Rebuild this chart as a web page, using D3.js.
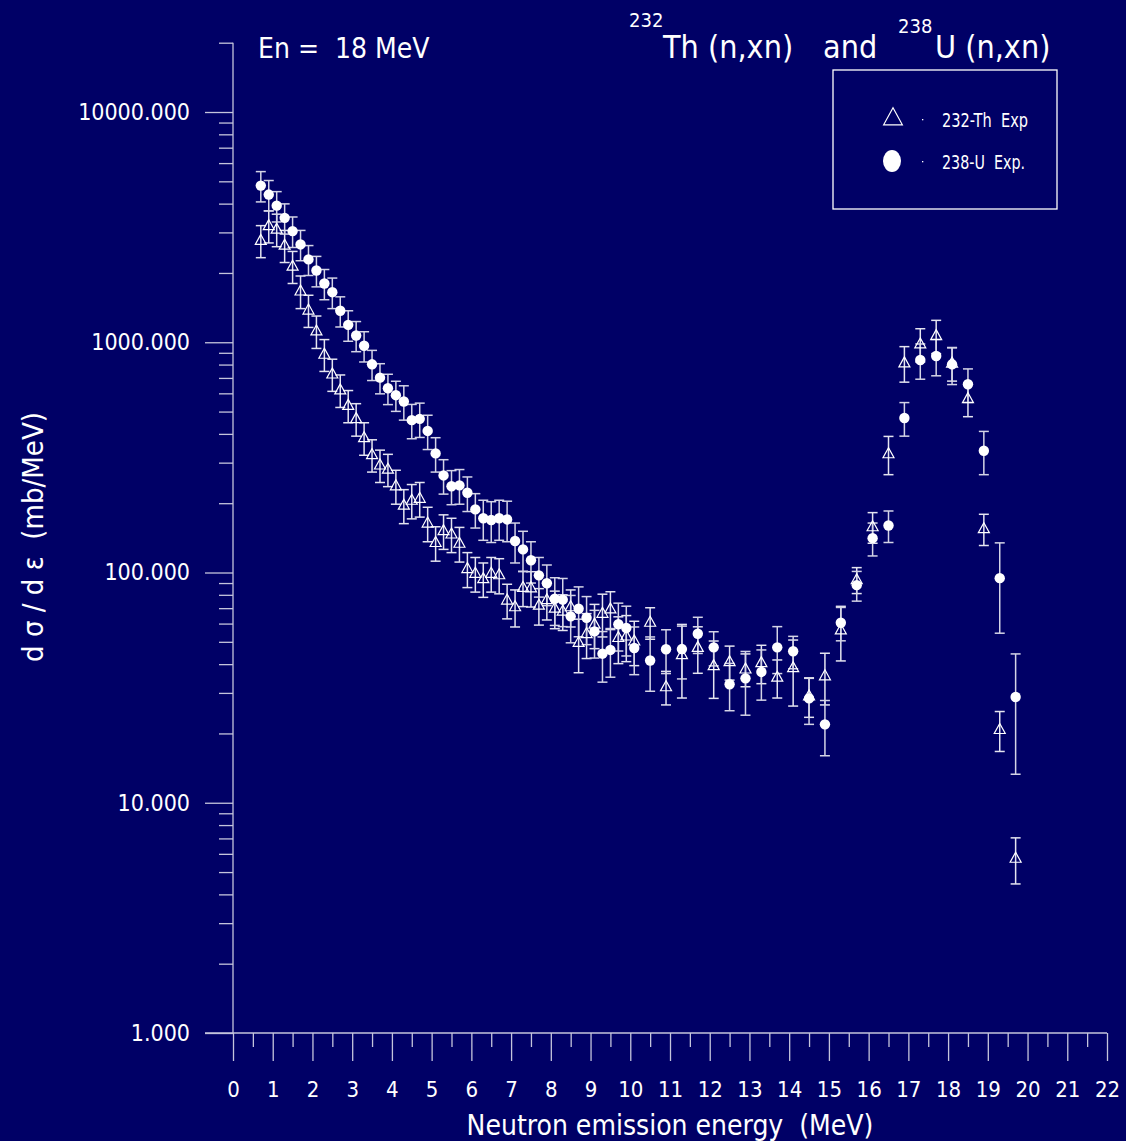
<!DOCTYPE html>
<html>
<head>
<meta charset="utf-8">
<script src="https://cdn.jsdelivr.net/npm/d3@7"></script>
<style>
  body { margin: 0; background: #000066; }
  svg text { font-family: "DejaVu Sans Condensed", "DejaVu Sans", sans-serif; fill: #ffffff; }
</style>
</head>
<body>
<div id="chart"></div>
<script>
// 238-U (n,xn) data, En = 18 MeV
var uEnergy = [0.7, 0.9, 1.1, 1.3, 1.5, 1.7, 1.9, 2.1, 2.3, 2.5, 2.7, 2.9, 3.1, 3.3, 3.5, 3.7, 3.9, 4.1,
    4.3, 4.5, 4.7, 4.9, 5.1, 5.3, 5.5, 5.7, 5.9, 6.1, 6.3, 6.5, 6.7, 6.9, 7.1, 7.3, 7.5, 7.7, 7.9,
    8.1, 8.3, 8.5, 8.7, 8.9, 9.1, 9.3, 9.5, 9.7, 9.9, 10.1, 10.5, 10.9, 11.3, 11.7, 12.1, 12.5, 12.9,
    13.3, 13.7, 14.1, 14.5, 14.9, 15.3, 15.7, 16.1, 16.5, 16.9, 17.3, 17.7, 18.1, 18.5, 18.9, 19.3, 19.7];
var uValue = [4790, 4380, 3920, 3470, 3040, 2660, 2290, 2050, 1800, 1650, 1370, 1190, 1070, 966, 802, 702, 631, 589,
    553, 459, 465, 412, 329, 264, 237, 239, 222, 188, 172, 169, 172, 170, 137, 126, 113, 97.2, 89.8,
    76.9, 76.2, 64.5, 69.6, 63.6, 55.5, 44.4, 46.1, 59.6, 57.4, 47.0, 41.5, 46.4, 46.5, 54.2, 47.3, 32.7, 34.7,
    37.0, 47.3, 45.5, 28.4, 21.9, 60.5, 88.1, 141, 160, 469, 837, 872, 802, 657, 338, 94.5, 28.8];
var uError = [720, 660, 590, 520, 460, 400, 340, 310, 270, 250, 205, 180, 160, 145, 120, 105, 95, 88,
    94, 78, 79, 70, 56, 45, 40, 41, 38, 32, 34, 34, 34, 34, 27, 25, 23, 19, 18,
    18, 18, 15, 17, 15, 13, 11, 11, 14, 14, 11, 11, 10, 12, 9.7, 8, 7.6, 10.7,
    9.1, 10.9, 7.3, 6.5, 5.9, 10, 13, 23, 25, 78, 146, 157, 147, 109, 72, 40, 15.5];

// 232-Th (n,xn) data
var thEnergy = [0.7, 0.9, 1.1, 1.3, 1.5, 1.7, 1.9, 2.1, 2.3, 2.5, 2.7, 2.9, 3.1, 3.3, 3.5, 3.7, 3.9, 4.1,
    4.3, 4.5, 4.7, 4.9, 5.1, 5.3, 5.5, 5.7, 5.9, 6.1, 6.3, 6.5, 6.7, 6.9, 7.1, 7.3, 7.5, 7.7, 7.9,
    8.1, 8.3, 8.5, 8.7, 8.9, 9.1, 9.3, 9.5, 9.7, 9.9, 10.1, 10.5, 10.9, 11.3, 11.7, 12.1, 12.5, 12.9,
    13.3, 13.7, 14.1, 14.5, 14.9, 15.3, 15.7, 16.1, 16.5, 16.9, 17.3, 17.7, 18.1, 18.5, 18.9, 19.3, 19.7];
var thValue = [2770, 3210, 3100, 2640, 2140, 1670, 1380, 1120, 887, 728, 621, 532, 466, 385, 325, 293, 281, 238,
    196, 206, 210, 164, 135, 152, 147, 134, 104, 99.2, 94.0, 99.2, 97.8, 75.9, 71.0, 86.1, 85.8, 72.1, 76.2,
    70, 68, 71, 49.7, 54.3, 59.7, 66.5, 69.5, 52.2, 53.0, 50.4, 60.8, 31.9, 44.0, 47.3, 39.4, 41.0, 38.1,
    40.6, 35.1, 38.6, 29.1, 35.6, 56.3, 93.0, 158, 328, 814, 983, 1069, 812, 569, 155, 20.8, 5.74];
var thError = [440, 510, 500, 420, 340, 270, 220, 180, 140, 116, 100, 85, 75, 62, 52, 47, 45, 40,
    33, 35, 36, 28, 23, 26, 25, 23, 18, 17, 16, 17, 17, 13, 13, 15, 15, 13, 14,
    13, 12, 13, 13, 12, 13, 14, 13, 12, 12, 11, 9.5, 5.3, 15.5, 10.8, 11, 6.9, 6.2,
    7.7, 6.6, 12.3, 5.6, 9, 15, 12, 24, 62, 143, 162, 176, 134, 94, 24, 4.1, 1.3];

var xTicks = d3.range(0, 23);
var yMajor = [1, 10, 100, 1000, 10000];
var legendLabels = ["232-Th  Exp", "238-U  Exp."];

var width = 1126, height = 1141;
var lineColor = "#c4c4dc";

var svg = d3.select("#chart").append("svg")
    .attr("width", width)
    .attr("height", height)
    .style("background", "#000066");

var x = d3.scaleLinear().domain([0, 22]).range([233, 1107]);
var y = d3.scaleLog().domain([1, 20000]).range([1033, 42.7]);

// minor y ticks: 2..9 of each decade plus 20000
var yMinor = [];
yMajor.forEach(function(d) {
    for (var k = 2; k <= 9; k++) { if (d * k <= 20000) yMinor.push(d * k); }
});

var yAxisMinor = svg.append("g")
    .attr("transform", "translate(233,0)")
    .call(d3.axisLeft(y).tickValues(yMinor).tickSize(14).tickSizeOuter(0).tickFormat(""));
var yAxisMajor = svg.append("g")
    .attr("transform", "translate(233,0)")
    .call(d3.axisLeft(y).tickValues(yMajor).tickSize(28).tickSizeOuter(0).tickPadding(15)
        .tickFormat(d3.format(".3f")));

var xAxis = svg.append("g")
    .attr("transform", "translate(0,1033)")
    .call(d3.axisBottom(x).tickValues(xTicks).tickSize(28).tickSizeOuter(0).tickPadding(20));
var xAxisMinor = svg.append("g")
    .attr("transform", "translate(0,1033)")
    .call(d3.axisBottom(x).tickValues(xTicks.slice(0, 22).map(function(d) { return d + 0.5; }))
        .tickSize(14).tickSizeOuter(0).tickFormat(""));

svg.selectAll(".domain").remove();
svg.selectAll(".tick line").attr("stroke", lineColor).attr("stroke-width", 1.3);
yAxisMajor.selectAll("text").style("font-size", "23px").attr("fill", "#fff");
xAxis.selectAll("text").style("font-size", "22px").attr("fill", "#fff");

// axis lines
svg.append("line").attr("x1", 233).attr("x2", 233).attr("y1", y(20000)).attr("y2", y(1))
    .attr("stroke", lineColor).attr("stroke-width", 1.3);
svg.append("line").attr("x1", 205).attr("x2", x(22)).attr("y1", y(1)).attr("y2", y(1))
    .attr("stroke", lineColor).attr("stroke-width", 1.3);

// error bars
function errorBars(energy, value, err, color) {
    var g = svg.append("g").attr("stroke", color).attr("stroke-width", 1.5);
    energy.forEach(function(e, i) {
        var lo = Math.max(value[i] - err[i], 1), hi = value[i] + err[i];
        g.append("line").attr("x1", x(e)).attr("x2", x(e)).attr("y1", y(hi)).attr("y2", y(lo));
        g.append("line").attr("x1", x(e) - 5).attr("x2", x(e) + 5).attr("y1", y(hi)).attr("y2", y(hi));
        g.append("line").attr("x1", x(e) - 5).attr("x2", x(e) + 5).attr("y1", y(lo)).attr("y2", y(lo));
    });
}
errorBars(thEnergy, thValue, thError, "#e4e4f0");
errorBars(uEnergy, uValue, uError, "#d4d4e6");

function triangle(cx, cy, s) {
    return "M" + cx + "," + (cy - s * 0.6) + "L" + (cx - s * 0.55) + "," + (cy + s * 0.4) +
        "L" + (cx + s * 0.55) + "," + (cy + s * 0.4) + "Z";
}

svg.append("g").selectAll("path")
    .data(thEnergy)
    .enter().append("path")
    .attr("d", function(d, i) { return triangle(x(d), y(thValue[i]), 10); })
    .attr("fill", "none")
    .attr("stroke", "#ffffff")
    .attr("stroke-width", 1.2);

svg.append("g").selectAll("circle")
    .data(uEnergy)
    .enter().append("circle")
    .attr("cx", function(d) { return x(d); })
    .attr("cy", function(d, i) { return y(uValue[i]); })
    .attr("r", 5.2)
    .attr("fill", "#ffffff");

// titles
svg.append("text").attr("x", 258).attr("y", 58).style("font-size", "28px")
    .attr("xml:space", "preserve").text("En =  18 MeV");

var title = svg.append("g").style("font-size", "32px");
title.append("text").attr("x", 629).attr("y", 27).style("font-size", "20px").text("232");
title.append("text").attr("x", 663).attr("y", 58).text("Th (n,xn)");
title.append("text").attr("x", 823).attr("y", 58).text("and");
title.append("text").attr("x", 898).attr("y", 33).style("font-size", "20px").text("238");
title.append("text").attr("x", 935).attr("y", 58).text("U (n,xn)");

// axis titles
svg.append("text")
    .attr("transform", "translate(43,537) rotate(-90)")
    .attr("text-anchor", "middle")
    .style("font-size", "29px")
    .attr("xml:space", "preserve")
    .text("d σ / d ε  (mb/MeV)");

svg.append("text")
    .attr("x", 670).attr("y", 1135)
    .attr("text-anchor", "middle")
    .style("font-size", "28px")
    .attr("xml:space", "preserve")
    .text("Neutron emission energy  (MeV)");

// legend
var legendWidths = [86, 83];
var legend = svg.append("g");
legend.append("rect").attr("x", 833).attr("y", 70).attr("width", 224).attr("height", 139)
    .attr("fill", "none").attr("stroke", "#ffffff").attr("stroke-width", 1.3);
legend.append("path").attr("d", triangle(893, 118, 17)).attr("fill", "none")
    .attr("stroke", "#ffffff").attr("stroke-width", 1.2);
legend.append("ellipse").attr("cx", 892).attr("cy", 161).attr("rx", 9).attr("ry", 11).attr("fill", "#ffffff");
legend.selectAll("rect.dot").data(legendLabels).enter().append("rect")
    .attr("x", 922).attr("y", function(d, i) { return 119 + i * 42; })
    .attr("width", 1.3).attr("height", 1.3).attr("fill", "#ffffff");
legend.selectAll("text").data(legendLabels).enter().append("text")
    .attr("x", 942).attr("y", function(d, i) { return 127 + i * 42; })
    .style("font-size", "19px")
    .attr("xml:space", "preserve")
    .attr("textLength", function(d, i) { return legendWidths[i]; })
    .attr("lengthAdjust", "spacingAndGlyphs")
    .text(function(d) { return d; });
</script>
</body>
</html>
